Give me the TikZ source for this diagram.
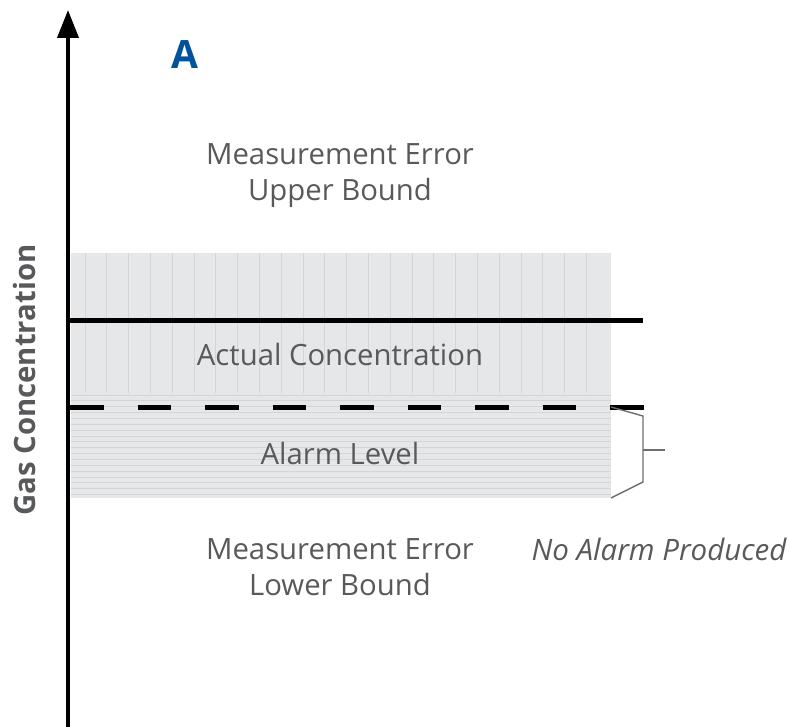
\documentclass[tikz,border=0pt]{standalone}
\usepackage{fontspec}
\setmainfont{Open Sans}
\usetikzlibrary{arrows.meta}
\definecolor{bandfill}{HTML}{E6E7E8}
\definecolor{stripe}{HTML}{D4D5D7}
\definecolor{txtgray}{HTML}{58595B}
\definecolor{brackgray}{HTML}{6D6E71}
\definecolor{titleblue}{HTML}{00529B}
\tikzset{
  lbl/.style={text=txtgray, font=\fontsize{29.3}{36}\selectfont, align=center, inner sep=0pt},
  bracketline/.style={draw=brackgray, line width=1.4pt},
}
\begin{document}
\begin{tikzpicture}[x=1pt,y=-1pt]
  \useasboundingbox (0,0) rectangle (789,727);
  % upper error band with vertical stripes
  \fill[bandfill] (71,253) rectangle (611,393);
  \foreach \i in {0,...,23}
    \draw[stripe, line width=0.8pt] ({85+21.8*\i},253) -- ({85+21.8*\i},393);
  % lower error band with horizontal stripes
  \fill[bandfill] (71,393) rectangle (611,498);
  \foreach \j in {0,...,17}
    \draw[stripe, line width=0.8pt] (71,{395+5.85*\j}) -- (611,{395+5.85*\j});
  % axis
  \coordinate (ybot) at (68,727);
  \coordinate (ytop) at (68,10);
  \draw[line width=4pt, -{Triangle[width=21pt,length=28pt]}] (ybot) -- (ytop);
  % actual concentration line
  \coordinate (a0) at (68,320);
  \coordinate (a1) at (643,320);
  \draw[line width=5pt] (a0) -- (a1);
  % alarm level line
  \coordinate (d0) at (70,407);
  \coordinate (d1) at (644,407);
  \draw[line width=5pt, dash pattern=on 33.5pt off 34pt] (d0) -- (d1);
  % bracket
  \coordinate (b0) at (611,407);
  \coordinate (b1) at (643,416);
  \coordinate (b2) at (643,482);
  \coordinate (b3) at (611,498);
  \coordinate (bm) at (643,450);
  \coordinate (bt) at (665,450);
  \draw[bracketline] (b0) -- (b1) -- (b2) -- (b3);
  \draw[bracketline] (bm) -- (bt);
  % labels
  \node[text=titleblue, font=\fontsize{39}{40}\selectfont\bfseries, inner sep=0pt] (title) at (185,55) {A};
  \node[lbl] (upper) at (340,176) {Measurement Error\\Upper Bound};
  \node[lbl] (actual) at (340,355) {Actual Concentration};
  \node[lbl] (alarm) at (340,454) {Alarm Level};
  \node[lbl] (lower) at (340,567) {Measurement Error\\Lower Bound};
  \node[lbl, font=\fontsize{29.5}{36}\selectfont\itshape] (noalarm) at (659,549) {No Alarm Produced};
  \node[text=txtgray, font=\fontsize{29.3}{32}\selectfont\bfseries, rotate=90, inner sep=0pt] (ylabel) at (25,380) {Gas Concentration};
\end{tikzpicture}
\end{document}
